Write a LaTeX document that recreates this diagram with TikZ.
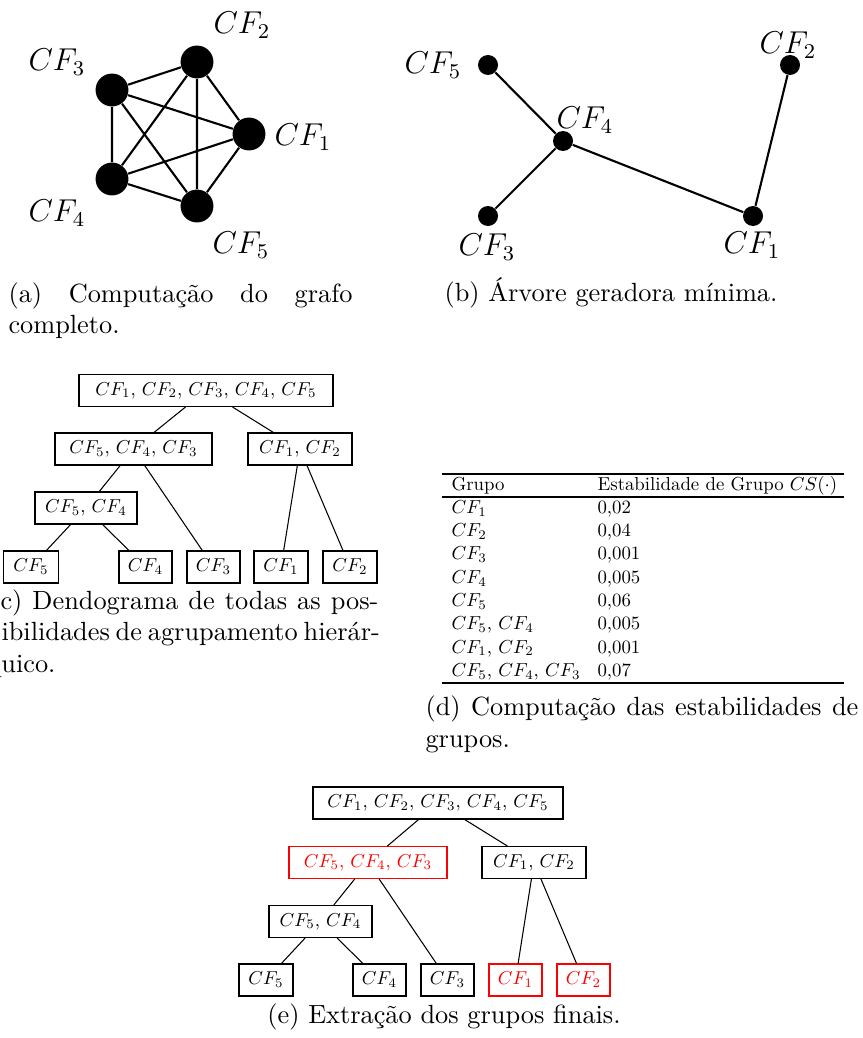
\documentclass[tikz,border=0pt]{standalone}
\usepackage{graphicx}
\newcommand{\dgt}[1]{\scalebox{0.71}{#1}}
\newcommand{\tbt}[1]{\scalebox{0.715}{#1}}
\tikzset{
 dot/.style={circle, fill=black, inner sep=0pt, minimum size=#1},
 gedge/.style={line width=0.8pt},
 glab/.style={font=\large, inner sep=0pt},
 bx/.style={draw, line width=0.4pt, minimum height=12.16pt, inner xsep=1pt, inner ysep=0pt, font=\normalsize},
 bw/.style={minimum width=#1*0.38pt},
 rbx/.style={bx, draw=red, text=red},
 dedge/.style={line width=0.4pt},
 tcell/.style={anchor=base west, inner sep=0pt, font=\normalsize},
 captxt/.style={anchor=base west, inner sep=0pt, font=\normalsize},
 captxtc/.style={anchor=base, inner sep=0pt, font=\normalsize},
}
\begin{document}
\begin{tikzpicture}[x=0.38pt,y=-0.38pt]
\useasboundingbox (0,0) rectangle (862,1038);
% ---------- (a) complete graph
\node[dot=12.5pt] (a1) at (249,134) {};
\node[dot=12.5pt] (a2) at (197,62) {};
\node[dot=12.5pt] (a3) at (112,90) {};
\node[dot=12.5pt] (a4) at (112,179) {};
\node[dot=12.5pt] (a5) at (197,206) {};
\draw[gedge] (a1)--(a2) (a1)--(a3) (a1)--(a4) (a1)--(a5)
             (a2)--(a3) (a2)--(a4) (a2)--(a5)
             (a3)--(a4) (a3)--(a5) (a4)--(a5);
\node[glab] (la1) at (303,137) {$CF_1$};
\node[glab] (la2) at (242,25) {$CF_2$};
\node[glab] (la3) at (57,62) {$CF_3$};
\node[glab] (la4) at (57,213) {$CF_4$};
\node[glab] (la5) at (241,245) {$CF_5$};
\node[captxt] (capa1) at (8,302) {\makebox[130.7pt][s]{(a) Computação do grafo}};
\node[captxt] (capa2) at (8,333) {completo.};
% ---------- (b) minimum spanning tree
\node[dot=7.6pt] (b1) at (753,216) {};
\node[dot=7.6pt] (b2) at (790,65) {};
\node[dot=7.6pt] (b3) at (488,216) {};
\node[dot=7.6pt] (b4) at (563,141) {};
\node[dot=7.6pt] (b5) at (488,65) {};
\draw[gedge] (b5)--(b4) (b4)--(b3) (b4)--(b1) (b1)--(b2);
\node[glab] (lb1) at (752,245) {$CF_1$};
\node[glab] (lb2) at (788,45) {$CF_2$};
\node[glab] (lb3) at (487,247) {$CF_3$};
\node[glab] (lb4) at (585,120) {$CF_4$};
\node[glab] (lb5) at (433,65) {$CF_5$};
\node[captxtc] (capb) at (611,301) {(b) Árvore geradora mínima.};
% ---------- (c) dendrogram
\node[bx,bw=254] (cr) at (206,390.5) {\dgt{$CF_1$, $CF_2$, $CF_3$, $CF_4$, $CF_5$}};
\node[bx,bw=157] (c543) at (133.5,449) {\dgt{$CF_5$, $CF_4$, $CF_3$}};
\node[bx,bw=104] (c12) at (300,449) {\dgt{$CF_1$, $CF_2$}};
\node[bx,bw=102] (c54) at (86,508) {\dgt{$CF_5$, $CF_4$}};
\node[bx,bw=55] (c5) at (31,567) {\dgt{$CF_5$}};
\node[bx,bw=53] (c4) at (145.5,567) {\dgt{$CF_4$}};
\node[bx,bw=53] (c3) at (213.5,567) {\dgt{$CF_3$}};
\node[bx,bw=54] (c1) at (281,567) {\dgt{$CF_1$}};
\node[bx,bw=54] (c2) at (350,567) {\dgt{$CF_2$}};
\draw[dedge] (cr)--(c543) (cr)--(c12) (c543)--(c54) (c543)--(c3)
             (c12)--(c1) (c12)--(c2) (c54)--(c5) (c54)--(c4);
\node[captxt] (capc1) at (0,609) {\makebox[143.6pt][s]{c) Dendograma de todas as pos-}};
\node[captxt] (capc2) at (1,640.6) {\makebox[143.3pt][s]{ibilidades de agrupamento hierár-}};
\node[captxt] (capc3) at (-13,672.2) {quico.};
% ---------- (d) table
\draw[line width=0.6pt] (442,474) -- (844,474);
\draw[line width=0.4pt] (442,497) -- (844,497);
\draw[line width=0.6pt] (442,683) -- (844,683);
\node[tcell] (th1) at (451,490) {\tbt{Grupo}};
\node[tcell] (th2) at (597,490) {\tbt{Estabilidade de Grupo $CS(\cdot)$}};
\node[tcell] (t11) at (451,513.3) {\tbt{$CF_1$}};
\node[tcell] (t12) at (597,513.3) {\tbt{0,02}};
\node[tcell] (t21) at (451,536.6) {\tbt{$CF_2$}};
\node[tcell] (t22) at (597,536.6) {\tbt{0,04}};
\node[tcell] (t31) at (451,559.9) {\tbt{$CF_3$}};
\node[tcell] (t32) at (597,559.9) {\tbt{0,001}};
\node[tcell] (t41) at (451,583.2) {\tbt{$CF_4$}};
\node[tcell] (t42) at (597,583.2) {\tbt{0,005}};
\node[tcell] (t51) at (451,606.5) {\tbt{$CF_5$}};
\node[tcell] (t52) at (597,606.5) {\tbt{0,06}};
\node[tcell] (t61) at (451,629.8) {\tbt{$CF_5$, $CF_4$}};
\node[tcell] (t62) at (597,629.8) {\tbt{0,005}};
\node[tcell] (t71) at (451,653.1) {\tbt{$CF_1$, $CF_2$}};
\node[tcell] (t72) at (597,653.1) {\tbt{0,001}};
\node[tcell] (t81) at (451,676.4) {\tbt{$CF_5$, $CF_4$, $CF_3$}};
\node[tcell] (t82) at (597,676.4) {\tbt{0,07}};
\node[captxt] (capd1) at (425,715) {\makebox[164.5pt][s]{(d) Computação das estabilidades de}};
\node[captxt] (capd2) at (425,747) {grupos.};
% ---------- (e) extraction
\node[bx,bw=250] (er) at (438,803) {\dgt{$CF_1$, $CF_2$, $CF_3$, $CF_4$, $CF_5$}};
\node[rbx,bw=158] (e543) at (368,862.5) {\dgt{$CF_5$, $CF_4$, $CF_3$}};
\node[bx,bw=104] (e12) at (534,862.5) {\dgt{$CF_1$, $CF_2$}};
\node[bx,bw=103] (e54) at (320.5,921.5) {\dgt{$CF_5$, $CF_4$}};
\node[bx,bw=54] (e5) at (266,980) {\dgt{$CF_5$}};
\node[bx,bw=53] (e4) at (379.5,980) {\dgt{$CF_4$}};
\node[bx,bw=53] (e3) at (447.5,980) {\dgt{$CF_3$}};
\node[rbx,bw=53] (e1) at (515.5,980) {\dgt{$CF_1$}};
\node[rbx,bw=53] (e2) at (583.5,980) {\dgt{$CF_2$}};
\draw[dedge] (er)--(e543) (er)--(e12) (e543)--(e54) (e543)--(e3)
             (e12)--(e1) (e12)--(e2) (e54)--(e5) (e54)--(e4);
\node[captxtc] (cape) at (444,1023) {(e) Extração dos grupos finais.};
\end{tikzpicture}
\end{document}
